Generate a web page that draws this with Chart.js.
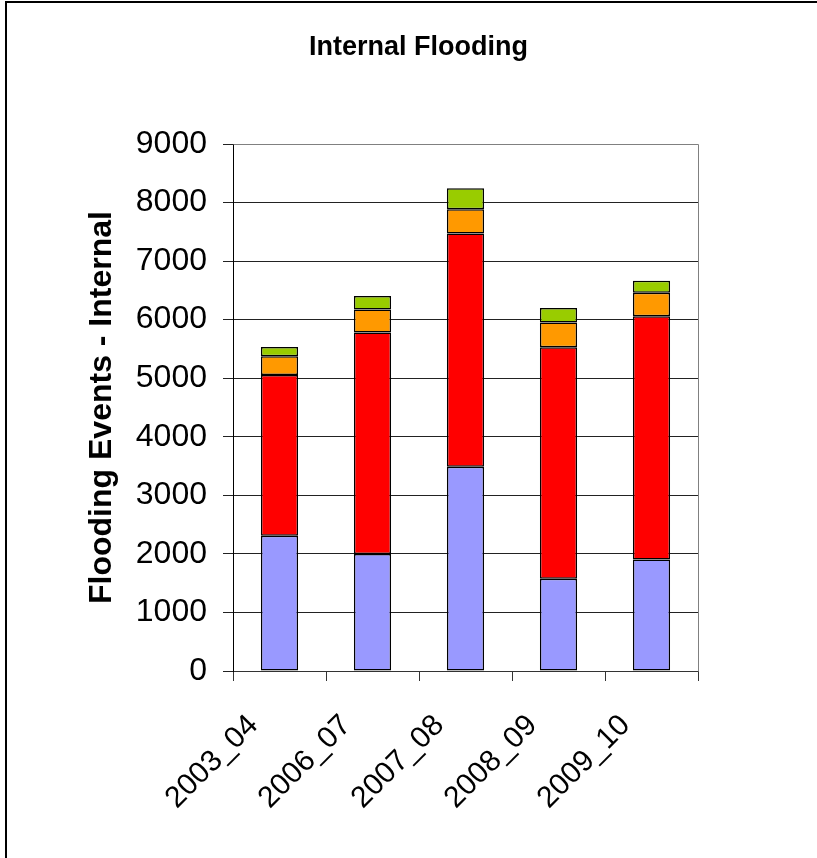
<!DOCTYPE html>
<html>
<head>
<meta charset="utf-8">
<script src="https://cdn.jsdelivr.net/npm/chart.js@4/dist/chart.umd.min.js"></script>
<style>
  html, body { margin: 0; padding: 0; background: #fff; }
  canvas { display: block; }
</style>
</head>
<body>
<canvas id="chart" width="817" height="858"></canvas>
<script>
// Financial years shown on the category axis
const years = ['2003_04', '2006_07', '2007_08', '2008_09', '2009_10'];

// Flooding events per year, one array per stacked band (bottom to top)
const band1 = [2310, 2000, 3490, 1575, 1905];
const band2 = [2745, 3780, 3980, 3955, 4155];
const band3 = [320, 395, 415, 420, 400];
const band4 = [160, 230, 360, 250, 205];

// Value axis range and step
const yMin = 0;
const yMax = 9000;
const yStep = 1000;

const FONT = "'Liberation Sans', Arial, Helvetica, sans-serif";

// Outer frame of the figure and the grey frame round the plot area
const framePlugin = {
  id: 'frame',
  beforeDraw(chart) {
    const ctx = chart.ctx;
    ctx.save();
    ctx.fillStyle = '#ffffff';
    ctx.fillRect(0, 0, chart.width, chart.height);
    ctx.restore();
  },
  afterDraw(chart) {
    const ctx = chart.ctx;
    const a = chart.chartArea;
    ctx.save();
    ctx.strokeStyle = '#808080';
    ctx.lineWidth = 1;
    ctx.beginPath();
    ctx.moveTo(Math.round(a.left) + 0.5, Math.round(a.top) + 0.5);
    ctx.lineTo(Math.round(a.right) + 0.5, Math.round(a.top) + 0.5);
    ctx.lineTo(Math.round(a.right) + 0.5, Math.round(a.bottom) + 0.5);
    ctx.stroke();
    ctx.strokeStyle = '#000000';
    ctx.lineWidth = 2;
    ctx.beginPath();
    ctx.moveTo(6, chart.height);
    ctx.lineTo(6, 2);
    ctx.lineTo(chart.width, 2);
    ctx.stroke();
    ctx.restore();
  }
};

const ds = (label, data, color) => ({
  label,
  data,
  backgroundColor: color,
  borderColor: '#000000',
  borderWidth: 1.5,
  borderSkipped: false,
  barPercentage: 0.4,
  categoryPercentage: 1.0
});

new Chart(document.getElementById('chart'), {
  type: 'bar',
  data: {
    labels: years,
    datasets: [
      ds('Band 1', band1, '#9999FF'),
      ds('Band 2', band2, '#FF0000'),
      ds('Band 3', band3, '#FF9900'),
      ds('Band 4', band4, '#99CC00')
    ]
  },
  options: {
    responsive: false,
    animation: false,
    devicePixelRatio: 1,
    layout: { padding: { left: 20, right: 0, top: 0, bottom: 0 } },
    plugins: {
      legend: { display: false },
      tooltip: { enabled: false },
      title: {
        display: true,
        text: 'Internal Flooding',
        color: '#000000',
        font: { family: FONT, size: 27, weight: 'bold' },
        padding: { top: 31, bottom: 80.6 }
      }
    },
    scales: {
      x: {
        stacked: true,
        afterFit(scale) { scale.height = 187; },
        grid: {
          offset: true,
          drawOnChartArea: false,
          drawTicks: true,
          tickLength: 10,
          tickColor: '#333333',
          lineWidth: 1
        },
        border: { color: '#333333', width: 1 },
        ticks: {
          color: '#000000',
          font: { family: FONT, size: 30 },
          minRotation: 45,
          maxRotation: 45,
          padding: 27,
          labelOffset: -26,
          autoSkip: false
        }
      },
      y: {
        stacked: true,
        min: yMin,
        max: yMax,
        afterFit(scale) { scale.width = 213; },
        grid: {
          color: (c) => (c.tick && c.tick.value === yMax ? '#808080' : '#222222'),
          tickColor: '#222222',
          lineWidth: 1,
          tickLength: 10
        },
        border: { color: '#000000', width: 1 },
        ticks: {
          stepSize: yStep,
          color: '#000000',
          font: { family: FONT, size: 32 },
          padding: 16,
          callback: (v) => String(v)
        },
        title: {
          display: true,
          text: 'Flooding Events - Internal',
          color: '#000000',
          font: { family: FONT, size: 32, weight: 'bold' },
          padding: { top: 63, bottom: 0 }
        }
      },
      // empty right-hand margin that keeps the plot area narrower than the figure
      margin: {
        type: 'linear',
        position: 'right',
        display: true,
        afterFit(scale) { scale.width = 119; },
        grid: { display: false, drawTicks: false },
        border: { display: false },
        ticks: { display: false }
      }
    }
  },
  plugins: [framePlugin]
});
</script>
</body>
</html>
